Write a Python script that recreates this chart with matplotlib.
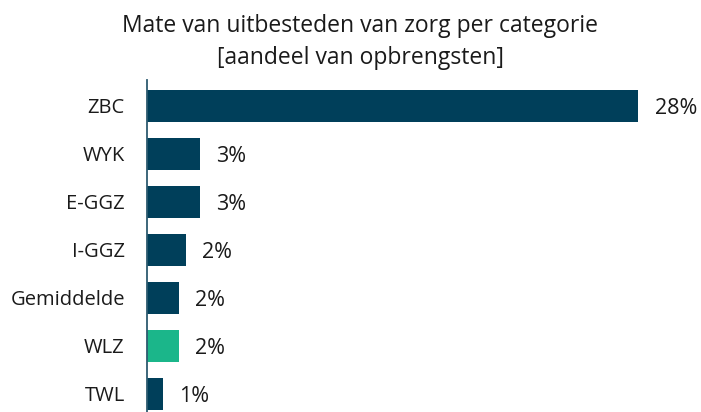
#!/usr/bin/env python3
"""
Horizontal bar chart: mate van uitbesteden van zorg per categorie.
"""

import matplotlib
matplotlib.use("Agg")
import matplotlib.pyplot as plt


CATEGORIES = ["ZBC", "WYK", "E-GGZ", "I-GGZ", "Gemiddelde", "WLZ", "TWL"]
SHARES = [28.0, 3.0, 3.0, 2.2, 1.8, 1.8, 0.9]
LABELS = ["28%", "3%", "3%", "2%", "2%", "2%", "1%"]
HIGHLIGHT = "WLZ"

BAR_COLOR = "#003f5a"
HIGHLIGHT_COLOR = "#1bb68a"
AXIS_COLOR = "#2d5b70"
TEXT_COLOR = "#1a1a1a"

TITLE = "Mate van uitbesteden van zorg per categorie\n[aandeel van opbrengsten]"


def main() -> None:
    plt.rcParams["font.family"] = ["Open Sans", "DejaVu Sans"]

    fig = plt.figure(figsize=(7.01, 4.12), dpi=100)
    ax = fig.add_axes([147 / 701, 0.0, 526 / 701, 332 / 412])

    colors = [HIGHLIGHT_COLOR if c == HIGHLIGHT else BAR_COLOR for c in CATEGORIES]
    ypos = list(range(len(CATEGORIES)))
    bars = ax.barh(ypos, SHARES, height=0.66, color=colors)

    for bar, label in zip(bars, LABELS):
        ax.annotate(
            label,
            xy=(bar.get_width(), bar.get_y() + bar.get_height() / 2),
            xytext=(12, -1.5),
            textcoords="offset points",
            ha="left",
            va="center",
            fontsize=15.5,
            color=TEXT_COLOR,
        )

    ax.set_xlim(0, 30)
    ax.set_ylim(6.375, -0.54)
    ax.set_yticks(ypos)
    ax.set_yticklabels(CATEGORIES, fontsize=14.5, color=TEXT_COLOR)
    ax.tick_params(axis="y", length=0, pad=16)
    ax.set_xticks([])

    for side in ["top", "right", "bottom"]:
        ax.spines[side].set_visible(False)
    ax.spines["left"].set_color(AXIS_COLOR)
    ax.spines["left"].set_linewidth(1.3)

    fig.text(
        0.514, 1 - 42 / 412, TITLE,
        ha="center", va="center", fontsize=16.5, color=TEXT_COLOR,
        linespacing=1.5,
    )

    fig.savefig("out.png", dpi=100)
    plt.close(fig)


if __name__ == "__main__":
    main()
